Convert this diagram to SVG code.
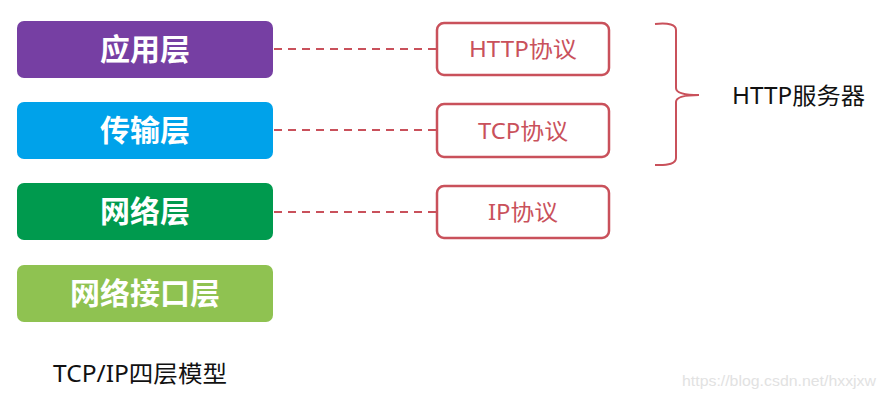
<svg xmlns="http://www.w3.org/2000/svg" width="885" height="400" viewBox="0 0 885 400">
<style>
.layer text{font-family:"Noto Sans CJK SC","Noto Sans",sans-serif;font-weight:bold;font-size:30px;fill:#fff;text-anchor:middle}
.proto rect{fill:#fff;stroke:#c9515b;stroke-width:2.5}
.proto text{font-family:"Noto Sans","Noto Sans CJK SC",sans-serif;font-size:22px;fill:#c9515b;text-anchor:middle}
.conn line{stroke:#c9515b;stroke-width:2;stroke-dasharray:8 6}
.lbl{font-family:"Noto Sans","Noto Sans CJK SC",sans-serif;font-size:23px;fill:#111}
</style>
<rect width="885" height="400" fill="#fff"/>
<g id="app" class="layer"><rect x="17" y="21" width="256" height="57" rx="7" fill="#763fa3"/><text x="145" y="60">应用层</text></g>
<g id="transport" class="layer"><rect x="17" y="102" width="256" height="57" rx="7" fill="#00a2ea"/><text x="145" y="141">传输层</text></g>
<g id="network" class="layer"><rect x="17" y="183" width="256" height="57" rx="7" fill="#009a4e"/><text x="145" y="222">网络层</text></g>
<g id="link" class="layer"><rect x="17" y="265" width="256" height="57" rx="7" fill="#8fc251"/><text x="145" y="304">网络接口层</text></g>
<g id="connectors" class="conn">
<line x1="274" y1="49" x2="437" y2="49"/>
<line x1="274" y1="130" x2="437" y2="130"/>
<line x1="274" y1="212" x2="437" y2="212"/>
</g>
<g id="http" class="proto"><rect x="437" y="23" width="172" height="52" rx="7"/><text x="523" y="57" textLength="108" lengthAdjust="spacingAndGlyphs">HTTP协议</text></g>
<g id="tcp" class="proto"><rect x="437" y="104" width="172" height="53" rx="7"/><text x="523" y="139" textLength="90" lengthAdjust="spacingAndGlyphs">TCP协议</text></g>
<g id="ip" class="proto"><rect x="437" y="186" width="172" height="52" rx="7"/><text x="523" y="220" textLength="70" lengthAdjust="spacingAndGlyphs">IP协议</text></g>
<g id="brace"><path d="M655 24 Q676 22 676 30 L676 88 Q676 95 699 95 Q676 95 676 102 L676 158 Q676 166 655 165" fill="none" stroke="#c9515b" stroke-width="2"/></g>
<g id="server"><text class="lbl" x="732" y="104" textLength="133" lengthAdjust="spacingAndGlyphs">HTTP服务器</text></g>
<g id="caption"><text class="lbl" x="53" y="382" textLength="174" lengthAdjust="spacingAndGlyphs">TCP/IP四层模型</text></g>
<text x="682" y="386" font-family="Liberation Sans,Arial,sans-serif" font-size="15" fill="#e2e2e2" textLength="194" lengthAdjust="spacingAndGlyphs">https://blog.csdn.net/hxxjxw</text>
</svg>
